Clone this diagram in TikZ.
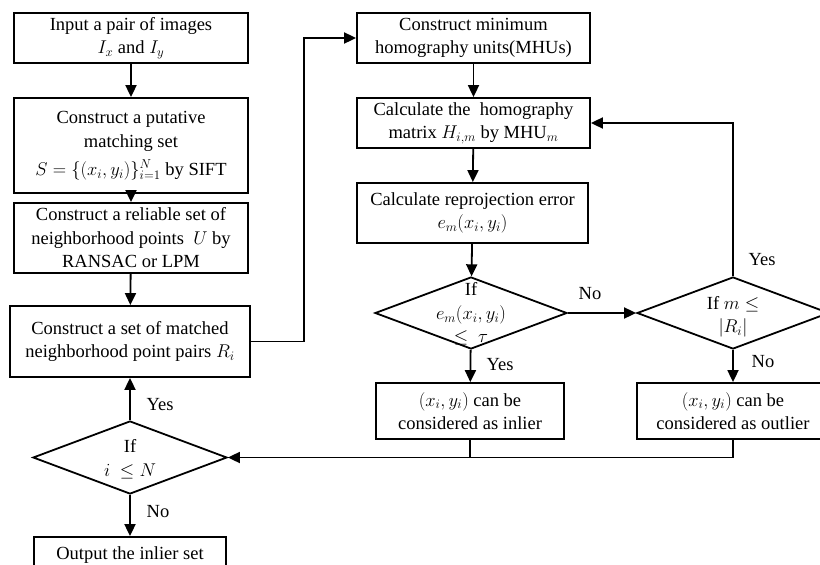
\RequirePackage{fix-cm}
\documentclass[tikz,border=0pt]{standalone}
\usepackage{fontspec}
\setmainfont{Liberation Serif}
\usetikzlibrary{shapes.geometric,arrows.meta}

\begin{document}
\begin{tikzpicture}
  [x=1pt,y=-1pt,line width=1.8pt,
   every node/.style={font=\fontsize{18.5}{23.5}\selectfont,align=center},
   box/.style={draw,rectangle,inner sep=0pt},
   dec/.style={draw,diamond,inner sep=0pt},
   arr/.style={-{Triangle[length=12pt,width=11pt]}}]
  \useasboundingbox (0,0) rectangle (820,565);

  % left column
  \node (inp)[box,minimum width=234,minimum height=50] at (131,38) {Input a pair of images\\ $I_x$ and $I_y$};
  \node (put)[box,minimum width=234,minimum height=95,font=\fontsize{18.5}{24}\selectfont] at (131,145.5) {Construct a putative\\ matching set\\[4pt] $S=\{(x_i,y_i)\}_{i=1}^{N}$ by SIFT};
  \node (rel)[box,minimum width=234,minimum height=70] at (131,238) {Construct a reliable set of\\ neighborhood points \ $U$ by\\ RANSAC or LPM};
  \node (nbr)[box,minimum width=240,minimum height=71] at (130,341.5) {Construct a set of matched\\ neighborhood point pairs $R_i$};
  \node (d1)[dec,minimum width=194,minimum height=73] at (130,457.5) {};
  \node (d1t) at (130,459) {If\\ $i\ \le N$};
  \node (out)[box,minimum width=192,minimum height=36] at (130,555) {Output the inlier set};

  % right part
  \node (mhu)[box,minimum width=233,minimum height=50] at (473.5,38) {Construct minimum\\ homography units(MHUs)};
  \node (hom)[box,minimum width=233,minimum height=50] at (473.5,123) {Calculate the \ homography\\ matrix $H_{i,m}$ by MHU$_m$};
  \node (rep)[box,minimum width=231,minimum height=60] at (472.5,213) {Calculate reprojection error\\ $e_m(x_i,y_i)$};
  \node (d2)[dec,minimum width=192,minimum height=72] at (471,313) {};
  \node (d2t) at (471,314) {If\\ $e_m(x_i,y_i)$\\ $\le\ \tau$};
  \node (d3)[dec,minimum width=192,minimum height=72] at (733,313) {};
  \node (d3t) at (733,317) {If $m\le$\\ $|R_i|$};
  \node (inl)[box,minimum width=188,minimum height=56] at (470,411) {$(x_i,y_i)$ can be\\ considered as inlier};
  \node (outl)[box,minimum width=192,minimum height=56] at (733,411) {$(x_i,y_i)$ can be\\ considered as outlier};

  % yes / no
  \node (y1) at (160,405) {Yes};
  \node (n1) at (158,512) {No};
  \node (y2) at (500,365) {Yes};
  \node (n2) at (590,294) {No};
  \node (y3) at (762,260) {Yes};
  \node (n3) at (763,362) {No};

  \foreach \from/\to in {inp/put,put/rel,rel/nbr,mhu/hom,hom/rep,rep/d2,d2/inl,d3/outl,d1/out,d1/nbr}
    \draw[arr] (\from) -- (\to);

  \draw[arr] (d2) -- (d3);
  \draw[arr] (nbr.east) -- ++(53,0) |- (mhu.west);
  \draw[arr] (d3.north) |- (hom.east);
  \draw (outl.south) |- (d1.east);
  \draw[arr] (inl.south) |- (d1.east);

\end{tikzpicture}
\end{document}
